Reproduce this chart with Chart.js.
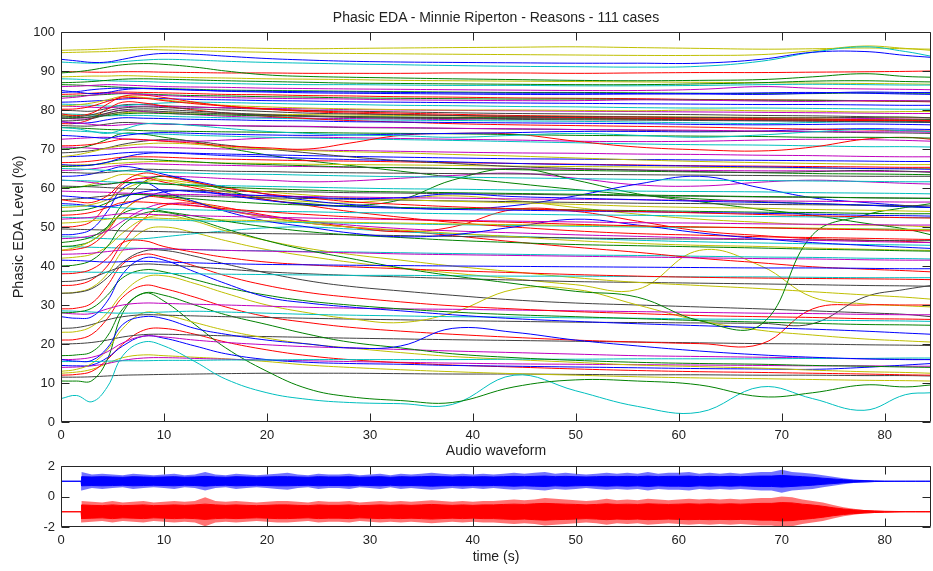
<!DOCTYPE html>
<html>
<head>
<meta charset="utf-8">
<script src="https://cdn.jsdelivr.net/npm/chart.js@4/dist/chart.umd.min.js"></script>
<style>
  body { margin: 0; background: #fff; width: 933px; height: 571px; position: relative; overflow: hidden; font-family: "Liberation Sans", Arial, sans-serif; }
  canvas { position: absolute; left: 0; }
  .ttl { position: absolute; left: 61px; width: 870px; text-align: center; font-size: 14px; line-height: 16px; color: #222; }
</style>
</head>
<body>
<canvas id="edaChart" width="933" height="460" style="top:0"></canvas>
<canvas id="audioChart" width="933" height="131" style="top:440px"></canvas>
<div class="ttl" style="top:9px">Phasic EDA - Minnie Riperton - Reasons - 111 cases</div>
<div class="ttl" style="top:442px">Audio waveform</div>
<script>
// sample times (s) for the EDA curves
const timeSec = [0, 1.5, 3, 4.5, 6, 8, 10, 13, 16, 20, 24, 28, 33, 38, 44, 50, 56, 62, 68, 73, 78, 82, 84.5];
const timeTicks = [0, 10, 20, 30, 40, 50, 60, 70, 80];
const edaTicks = [0, 10, 20, 30, 40, 50, 60, 70, 80, 90, 100];
const audioTicks = [-2, 0, 2];

// 111 cases, colours cycle b g r c m y k
const edaCases = [
  [93,92.6,92.2,92.3,93,94,94.5,94.3,93.8,93.2,92.8,92.5,92.3,92.2,92.1,92,92,92,93,94.8,95,94,93.5],
  [89.5,89.8,90.3,91,91.6,91.9,91.7,91,90,89,88.6,88.4,88.2,88,87.8,87.6,87.5,87.6,87.8,88.5,89.3,88.6,88.4],
  [89.8,89.8,89.7,89.7,89.8,89.8,89.7,89.6,89.5,89.5,89.4,89.4,89.4,89.5,89.5,89.4,89.5,89.6,89.6,89.7,89.8,89.9,90],
  [92.3,92.1,92,92.1,92.4,92.8,93,92.8,92.5,92.2,92,91.8,91.6,91.4,91.2,91.1,91,91.2,92.5,94.8,96.2,95,93.8],
  [86,86.1,86.3,86.5,86.4,86.2,86,85.9,85.8,85.6,85.5,85.4,85.3,85.2,85.1,85,85,85.3,86,85.6,85.4,85.3,85.2],
  [95.3,95.4,95.5,95.7,95.9,96.1,96.2,96.1,96,95.8,95.7,95.8,95.9,96,96.1,96.2,96,95.8,95.6,95.7,95.9,95.7,95.6],
  [78.5,78.3,78.8,79.8,80.5,80.8,80.6,80.3,80,79.6,79.2,79,78.8,78.6,78.4,78.3,78.2,78.1,78,78,78.1,78.2,78],

  [85,84.6,84.2,84.5,85.2,85.5,85.4,85.1,84.8,84.6,84.4,84.3,84.2,84.1,84,84,84.1,84.2,84.4,84.5,84.3,84.1,84],
  [87,87.1,87.3,87.6,87.9,88,87.9,87.7,87.5,87.3,87.1,86.9,86.8,86.7,86.6,86.5,86.5,86.7,87,87.4,87.5,87.3,87.2],
  [80.2,80.3,81,82.2,83.1,83,82.4,81.6,81,80.3,79.8,79.5,79.2,78.9,78.6,78.4,78.2,78,77.8,77.7,77.5,77.4,77.3],
  [88,87.9,87.7,87.5,87.4,87.3,87.1,86.9,86.8,86.6,86.5,86.5,86.4,86.3,86.3,86.2,86.2,86.3,86.5,86.6,86.5,86.4,86.4],
  [83,83.3,83.8,84.2,84.3,84,83.7,83.4,83.2,83,82.9,82.8,82.6,82.5,82.4,82.4,82.6,82.5,82.3,82.2,82.4,82.4,82.3],
  [94.7,94.8,94.9,95,95.2,95.5,95.4,95.2,95,94.8,94.6,94.5,94.4,94.3,94.2,94.1,94,94,94.2,95.2,96.4,95.8,95.3],
  [77.8,77.9,78.3,79.2,80,80.3,80.1,79.7,79.3,78.8,78.4,78.1,77.9,77.8,77.6,77.5,77.4,77.3,77.2,77.1,77,76.9,76.8],

  [84.5,84.7,85.2,85.5,85.6,85.5,85.3,85.1,84.9,84.8,84.7,84.6,84.5,84.4,84.3,84.3,84.2,84.1,84,84.3,84.6,84.5,84.5],
  [86.5,86.4,86.2,86,85.8,85.6,85.5,85.3,85.1,85,84.9,84.8,84.7,84.6,84.5,84.5,84.4,84.3,84.2,84.2,84.4,84.3,84.3],
  [79,78.6,79.2,81.5,83.5,83.8,83.2,82,81,80.2,79.6,79.2,78.9,78.6,78.3,78.1,77.9,77.7,77.5,77.4,77.3,77.3,77.2],
  [75.5,75.2,74.5,74,75,76.4,76.5,76,75.3,74.5,74,73.6,73.4,73,73.5,74,73.5,73,73.6,74.4,75,74.7,74.5],
  [77,76.7,76.3,76,76.2,76.5,76.4,76.2,76,75.9,75.8,75.6,75.5,75.3,75.2,75,74.9,74.8,74.6,74.5,74.4,74.4,74.3],
  [81,81.3,81.8,82.6,83.5,83.2,82.6,81.8,81.2,80.8,80.5,80.3,80.1,80,80,79.9,79.8,80,79.8,79.7,79.5,79.6,79.6],
  [77.2,77.3,77.8,78.8,79.5,79.8,79.6,79.3,79,78.7,78.5,78.3,78.1,78,77.8,77.7,77.6,77.5,77.4,77.3,77.2,77.1,77],

  [77,76.6,76.8,77.5,78,77.9,77.8,77.6,77.5,77.3,77.2,77,76.9,76.8,76.7,76.6,76.5,76.3,76.2,76.3,76.4,76.3,76.2],
  [78.2,78.1,78.2,78.6,79,79.2,79.1,78.9,78.7,78.5,78.4,78.3,78.2,78.1,78,77.9,77.8,77.7,77.6,77.6,77.5,77.5,77.5],
  [76.5,76.6,77.8,80.2,82,81.8,81,80,79.2,78.4,77.8,77.3,76.9,76.5,76.2,76,75.8,75.6,75.3,75.1,74.9,74.7,74.6],
  [79,78.9,78.7,78.5,78.6,78.6,78.4,78.2,78,77.9,77.7,77.5,77.4,77.3,77.2,77.1,76.9,76.7,76.5,76.8,77,76.9,76.8],
  [78,77.7,77.9,79.2,80,79.6,79.2,78.8,78.4,78.1,77.9,77.8,77.7,77.6,78,78,77.8,77.5,77.3,77.5,77.8,77.7,77.6],
  [78.6,78.7,78.8,79,79.3,79.5,79.4,79.2,79,78.9,78.8,78.7,78.6,78.5,78.4,78.4,78.3,78.2,78.1,78,78,78,78],
  [76,75.9,75.9,76.4,76.8,76.6,76.4,76.2,76,75.8,75.7,75.5,75.4,75.3,75.1,75,74.8,74.6,74.5,74.4,74.2,74.1,74],

  [73.5,73.3,73,72.8,73.4,74,74.2,74,73.8,73.6,73.5,73.6,73.8,74,74.2,74.5,74.5,74.4,74.6,75,75.2,75.1,75],
  [75.5,75.4,75.2,75,74.9,74.7,74.6,74.5,74.4,74.3,74.2,74.1,74,73.9,73.7,73.5,73.4,73.3,73.2,73,73,72.9,72.8],
  [70.8,70.9,71.2,71.8,72.5,72.4,72,71.5,70.8,70.3,70,71.5,73.5,74,73.8,72,70.5,69.8,69.5,70.5,72.5,73,72.5],
  [74.8,74.6,74.4,74.2,74,73.9,73.8,73.5,73.3,73,72.8,72.6,72.4,72.2,71.9,71.6,71.3,71.1,71,70.8,70.6,70.6,70.5],
  [72.5,72.7,72.9,73,72.6,72.3,72.1,72,72.3,72.8,73,72.9,72.7,72.5,72.3,72,71.9,72,72.3,72.5,72.4,72.2,72],
  [68,68.5,69.3,70.2,70.8,71.3,71.5,71.2,70.5,70,69.6,69.3,69,68.6,68.2,67.7,67.2,66.8,66.5,66.3,66.1,66,66],
  [69,69.2,69.6,70.3,71.2,72,72.4,72,71,70,69,68,67,66.3,65.5,65,64.6,64.2,64,64.2,64.5,64.3,64],

  [66,65.8,65.9,66.6,67.8,68.8,69,68.7,68.3,68,67.6,67.3,67,66.7,66.3,66,65.8,65.6,65.4,65.2,65,64.9,64.8],
  [65.5,65.6,65.9,66.6,67.3,67.4,67.1,66.7,66.3,66,65.7,65.4,65.2,65,64.7,64.5,64.3,64.1,63.9,63.7,63.6,63.5,63.4],
  [66.5,66.6,66.9,67.4,67.9,68,67.9,67.6,67.4,67.2,67,66.9,66.7,66.5,66.3,66.1,65.9,65.7,65.6,65.5,65.4,65.3,65.3],
  [65,64.9,64.7,64.5,64.4,64.2,64,63.8,63.6,63.5,63.3,63.1,62.9,62.8,62.6,62.4,62.2,62,61.9,61.8,61.7,61.6,61.6],
  [64.5,64.6,64.9,65.4,65.9,66.2,66.1,65.9,65.8,65.6,65.5,65.3,65.2,65,64.9,64.8,64.6,64.5,64.4,64.4,64.3,64.2,64.2],
  [65.8,65.9,66,66.2,66.4,66.7,66.8,66.6,66.4,66.3,66.1,66,65.9,65.8,65.6,65.5,65.4,65.3,65.2,65.1,65,65,65],
  [64,63.9,63.8,64,64.4,64.8,64.7,64.5,64.3,64.2,64,63.9,63.8,63.7,63.6,63.5,63.4,63.3,63.2,63.1,63,63,63],

  [58,57.7,57.3,57,57.8,59,59.5,59,58.5,58,57.6,57.3,57.5,58.5,57.8,57.4,57,56.6,56.3,56,55.6,55.2,55],
  [60,60.2,60.6,61,61.4,61.3,61,60.6,60.2,59.8,59.5,59.2,59,58.8,58.6,58.4,58.2,58,57.8,57.7,57.5,57.4,57.3],
  [57,56.5,56.3,58,61.5,63.8,63,61.5,60,58.5,57.5,56.5,55.8,55.2,54.7,54.3,54,53.6,53.2,52.9,52.6,52.4,52.3],
  [62,61.9,61.8,61.6,61.4,61.2,61,60.8,60.6,60.4,60.2,60,59.8,59.7,59.5,59.4,59.2,59.1,59,58.8,58.7,58.6,58.5],
  [59.2,59.1,59,58.9,58.7,58.6,58.4,58.3,58.1,58,57.8,57.7,57.5,57.4,57.2,57.1,57,56.8,56.7,56.6,56.5,56.4,56.4],
  [55,55.2,55.8,57,59.5,61.5,62,61.2,60,59,58.2,57.5,57,56.6,56.2,55.8,55.3,55,54.8,54.5,54.3,54.1,54],
  [60.5,60.4,60.3,60.1,59.9,59.7,59.5,59.4,59.2,59.1,59,58.8,58.7,58.5,58.4,58.2,58,57.9,57.7,57.6,57.5,57.4,57.4],

  [56,55.8,55.4,55.2,55.8,57.5,59,59.3,58.2,56.8,55.8,55.2,54.8,54.5,54.3,54.1,53.9,53.7,53.5,53.3,53,52.9,52.8],
  [54,54.2,54.8,56.2,58,58.3,57.8,57.2,56.6,56,55.6,55.3,55,54.8,54.6,54.4,54.2,54,53.8,53.7,53.5,53.4,53.4],
  [53,53.2,53.8,55,56.3,56.4,56,55.4,54.7,53.9,53.2,52.6,52,51.6,51.2,50.7,50.3,50,49.8,49.5,49.3,49.1,49],
  [55.5,55.4,55.3,55.1,54.9,54.7,54.6,54.4,54.2,54,53.9,53.7,53.6,53.4,53.3,53.1,53,52.8,52.7,52.6,52.5,52.4,52.4],
  [52,52.2,52.5,53,53.4,53.3,53.1,52.9,52.7,52.5,52.3,52.1,51.9,51.7,51.5,51.3,51.1,51,50.8,50.7,50.6,50.5,50.5],
  [51,51.2,51.6,52,52.4,52.4,52.2,52,51.8,51.6,51.4,51.2,51,50.8,50.6,50.4,50.2,50,49.8,49.7,49.5,49.4,49.3],
  [57,57.2,57.6,58,58.4,58.3,58.1,57.9,57.7,57.5,57.3,57.1,56.9,56.7,56.5,56.3,56.1,56,55.8,55.7,55.6,55.5,55.4],

  [48,48.2,49.5,54,60,61.5,59,56.5,54,51.5,50,48.5,47.5,48,50,52,50.5,48.5,47,46,45.3,44.8,44.5],
  [46,46.5,47.5,50,53.5,54.8,54,52.8,51.5,50,48.8,48,47.3,46.6,46,45.5,45.2,44.9,44.6,44.3,44.1,43.9,43.8],
  [50,50.2,51.5,56,61,62.5,61.5,60,58.5,57,55.5,54,52.5,51.2,50,49,48.3,47.9,47.5,47.3,47.1,46.9,46.8],
  [52.5,52.4,52.3,52.2,52.1,51.9,51.8,51.6,51.4,51.3,51.1,51,50.8,50.6,50.4,50.2,50,49.9,49.8,49.6,49.5,49.4,49.4],
  [47,47.2,47.8,49,51.5,54.5,56,55.5,54.3,52.8,51.5,50.5,49.6,49,48.5,48,47.6,47.2,46.9,46.6,46.3,46.1,46],
  [44,44.8,46.5,49.5,54,57.5,58,56.5,54.5,52.5,51,50,49.2,48.4,47.5,46.5,45.8,45.3,45,44.6,44.3,44.1,44],
  [49.5,49.4,49.3,49.2,49,48.9,48.8,48.6,48.5,48.3,48.2,48,47.8,47.6,47.4,47.2,47,46.9,46.8,46.7,46.6,46.5,46.5],

  [41.5,41.4,41.2,41,41.1,41.2,41,40.8,40.6,40.4,40.3,40.2,40.1,40,39.9,39.8,39.7,39.6,39.5,39.5,39.4,39.3,39.3],
  [40,40.3,41.5,45,50.5,53.5,53.8,52,49.5,46.5,44,42,39.5,37.5,35.5,33.5,32,26,25,48,53,55,56],
  [38,38.2,39.2,42,46,46.5,45,43.5,42.2,41,40.3,39.8,39.3,38.8,38.3,37.8,37.4,37.1,36.9,36.8,36.7,36.6,36.5],
  [38.5,38.5,38.4,38.4,38.3,38.2,38.1,38,37.9,37.8,37.7,37.6,37.6,37.5,37.4,37.4,37.3,37.2,37.2,37.1,37,37,37],
  [43,43.1,43.3,43.7,44.1,44.5,44.4,44.2,44,43.8,43.6,43.4,43.1,42.9,42.7,42.5,42.3,42.1,41.9,41.8,41.6,41.5,41.5],
  [42,42.3,43,45,48.5,52,53,51.5,49,46.5,44.5,43,41.5,40,38.5,37,35.8,35,34.2,33.4,32.6,32,31.5],
  [36,36.2,37,38.5,39.8,40.5,40.3,39.8,39.2,38.5,38,37.6,37.2,36.8,36.4,36,35.8,35.6,35.4,35.2,35,34.9,34.8],

  [27,26.6,27,31,38,42,41.5,38.5,35.5,32,30.5,29.5,28.5,27.5,26.5,25.8,25.2,24.7,24.2,23.8,23.3,22.8,22.5],
  [28,28.2,29.2,32.5,37,39,38.5,36.5,34.5,32.5,31,30,29,28.2,27.5,27,26.5,26,25.6,25.3,25,24.9,24.8],
  [29,29.2,30.5,35,40.5,43,42.2,40,37.5,35,33.2,32,30.8,29.8,29,28.3,27.8,27.3,27,26.8,26.5,26.4,26.3],
  [28.5,28.4,28.2,28,27.9,28,28.2,28.4,28.2,27.9,27.6,27.4,27.2,27,26.9,26.7,26.6,26.4,26.3,26.1,26,25.9,25.8],
  [28,27.7,27.8,29,30,30.5,30.4,30.2,30,29.7,29.4,29.2,29,28.9,28.7,28.5,28.3,28.1,27.9,27.8,27.6,27.5,27.5],
  [23,23.2,24.5,28,33,37,37.5,35.5,33,30,28,26.5,25.5,28,34,34,30,26,23.5,22.3,21.3,20.8,20.5],
  [24,24.2,25,26.2,27,27.5,27.4,27.2,27,26.8,26.6,26.4,26.2,26,25.8,25.6,25.5,25.4,25.3,25.2,32,34,35],

  [16,15.6,15.8,19,25,27,26.5,24,22.5,21,20,19,19.5,24,23,21,19.5,18.2,17.2,16.6,16.2,16,16],
  [17,17.2,18,22,29,33,32.5,30,27.5,25,22.5,20.5,19,17.5,16.5,15.8,15.3,15,14.8,14.5,14.3,14.1,14],
  [21,21.2,22.5,26.5,32,35,34.2,32,29.5,27,25.5,24.3,23.3,22.5,21.7,21,20.5,20.1,20,29,30,30,30],
  [15.5,15.5,15.5,15.6,15.7,15.7,15.8,15.8,15.9,15.9,16,16,16,16,16.1,16.1,16.2,16.2,16.2,16.3,16.3,16.4,16.4],
  [16,16.1,16.6,18,20.3,22,21.8,21,20.4,19.8,19.3,19,18.6,18.2,17.8,17.4,17,16.8,16.6,16.4,16.2,16.1,16],
  [13,13.5,15,18.5,24,28,27.5,25.5,23.5,21.5,20,19,17.8,16.8,16,15.3,14.6,14.2,13.8,13.3,12.9,12.7,12.5],
  [20,20.1,20.4,21,21.8,22.4,22.5,22.3,22.1,21.9,21.7,21.5,21.3,21.1,20.9,20.7,20.5,20.3,20.1,20,19.8,19.7,19.6],

  [14.5,14.4,14.6,16.5,19.5,22,21.5,19.5,17.5,16,15.3,15,14.8,14.5,14.3,14.1,13.9,13.7,13.6,13.5,14,14.6,15],
  [10.5,10.5,10.6,16,28,33,31,25,19,13,8.5,6.5,5.5,5,9,10.8,10.5,9.5,6.5,7.5,9.5,9,9.5],
  [12,12.2,13,16,20,23.5,24,22.5,20.5,18.5,17,16,15.2,14.6,14.1,13.6,13.2,12.9,12.7,12.5,12.3,12.1,12],
  [6,6.8,5.2,9,17,20.5,19.5,15.5,11,7.5,5.8,5,4.7,4.5,12,8,4,2.5,9,6,3,7,7.5],
  [14,14.1,14.4,15,15.8,16.4,16.5,16.3,16.1,15.9,15.7,15.5,15.3,15.1,14.9,14.8,14.7,14.6,14.5,14.4,14.4,14.3,14.3],
  [12.5,12.8,13.5,15,16.5,17.2,17,16.6,16.2,15.5,14.6,14,13.4,12.9,12.4,12,11.6,11.3,11.1,10.9,10.7,10.6,10.5],
  [11.5,11.5,11.6,11.8,12,12.1,12.2,12.3,12.4,12.5,12.5,12.5,12.4,12.3,12.3,12.2,12.1,12.1,12,12,11.9,11.9,11.8],

  [63,63.1,63.6,64.6,65.5,64.8,63.5,61.8,60.2,58.4,56.8,55.8,55,54.6,55.5,58,61,63,60,57.5,56.3,55.5,55],
  [45,45.3,46.5,50,56,61.5,63,61.5,59.5,57,56,55.5,57,62,65,62,58.5,56.5,54.5,53,51,49.5,48],
  [44,44.3,45.5,49,54,57.5,57.5,56.3,55,53,51.5,50,48.8,50,54.5,54,51.5,49,47.8,47,46.6,46.3,46],
  [47.5,47.4,47.2,47,46.9,47,47.5,48.3,49,49.8,50,49.5,48.8,48.2,47.6,47.1,46.6,46.2,45.9,45.7,45.5,45.4,45.3],
  [62,61.8,61.4,61,61.6,62.6,63,62.8,62.4,62,61.6,61.8,62.5,63.2,63.8,62.5,60.8,60.5,61.5,62,61.6,61.2,61],
  [60,60.2,61,62.3,63.5,63,62,60.5,59,57.5,56.5,56.2,57.2,58,56.8,55,53.3,52,51.2,50.6,50.5,50.3,50],
  [33,33.2,34.2,37,41,43.8,44,42.5,40.5,38.2,36.2,34.8,33.6,32.5,31.3,30.5,30,29.5,29,28.5,28,27.6,27],

  [82,82.1,82.3,82.5,82.8,83,82.9,82.7,82.6,82.4,82.3,82.1,82,81.9,81.8,81.7,81.6,81.5,81.4,81.4,81.3,81.2,81.2],
  [83.5,83.6,83.8,84,84.2,84.1,83.9,83.7,83.6,83.4,83.3,83.1,83,82.9,82.8,82.8,82.7,82.6,82.5,82.5,82.4,82.3,82.3],
  [84,84.1,84.3,84.5,84.6,84.5,84.4,84.2,84,83.9,83.7,83.6,83.4,83.3,83.1,83,82.9,82.7,82.6,82.5,82.3,82.2,82.1],
  [81.5,81.4,81.2,81,81.1,81.5,81.8,82,81.9,81.7,81.5,81.4,81.2,81.1,80.9,80.8,80.6,80.5,80.5,80.4,80.3,80.2,80.2],
  [81,80.9,80.7,80.6,80.8,81,80.9,80.7,80.6,80.4,80.3,80.1,80,79.9,79.8,79.7,79.6,79.5,79.4,79.3,79.2,79.1,79.1],
  [88.5,88.6,88.7,88.7,88.8,88.7,88.5,88.3,88.2,88,87.9,87.8,87.6,87.5,87.4,87.3,87.2,87.1,87,86.9,86.8,86.7,86.6],
  [80,79.8,79.7,80.4,81.3,81.4,81.1,80.8,80.5,80.2,79.9,79.7,79.5,79.3,79.1,79,78.9,78.8,78.6,78.5,78.3,78.1,78],

  [68,68.1,68.3,68.6,69,69.2,69.1,68.9,68.7,68.5,68.3,68.1,67.9,67.7,67.5,67.4,67.3,67.2,67.1,67,66.9,66.8,66.8],
  [70,70.2,71,72.5,74,73.8,73,71.8,70.3,68.5,67,65.8,64.3,62.8,61.2,59.6,58.2,57.2,56.5,56,55.6,55.2,55],
  [35,35.2,36.5,40,46,52,55.5,56,54.3,52.5,51,50,49,47.8,46.2,44.8,43.5,42,40.8,39.8,39.2,38.8,38.5],
  [45,44.9,44.8,44.7,44.6,44.5,44.3,44.2,44,43.9,43.7,43.6,43.4,43.2,43,42.8,42.7,42.5,42.3,42.2,42,41.9,41.8],
  [70.5,70.4,70.2,70,70.2,70.5,70.4,70.2,70,69.9,69.7,69.6,69.4,69.2,69,68.9,68.7,68.6,68.4,68.3,68.1,68,68],
  [33,33.3,34.5,38,44,49,50,48.5,46.5,44.2,42.5,41,39.5,38.2,36.7,35.2,34,44,40,32,30.3,29.8,29.5]
];

// audio waveform: half-amplitude envelopes around each channel's offset (+1 / -1)
const audioTime = [0,1.95,2,3,4,5,6,7,8,9,10,11,12,13,14,15,16,17,18,19,20,21,22,23,24,25,26,27,28,29,30,31,32,33,34,35,36,37,38,39,40,41,42,43,44,45,46,47,48,49,50,51,52,53,54,55,56,57,58,59,60,61,62,63,64,65,66,67,68,69,70,71,72,73,74,75,76,77,78,79,80,81,82,83,84,84.5];
const bluePeak = [0,0,
  0.6,0.45,0.5,0.45,0.4,0.5,0.45,0.4,0.45,0.5,
  0.4,0.45,0.6,0.45,0.4,0.5,0.45,0.4,0.45,0.5,
  0.55,0.45,0.4,0.5,0.45,0.45,0.5,0.4,0.45,0.5,
  0.4,0.5,0.45,0.5,0.55,0.5,0.45,0.5,0.45,0.5,
  0.45,0.5,0.55,0.5,0.55,0.6,0.5,0.55,0.5,0.45,
  0.5,0.55,0.5,0.55,0.5,0.6,0.5,0.55,0.55,0.6,
  0.5,0.55,0.5,0.55,0.5,0.55,0.6,0.6,0.75,0.6,
  0.55,0.5,0.4,0.3,0.2,0.12,0.08,0.05,0.02,0,
  0,0,0,0];
const blueCore = [0,0,
  0.3,0.28,0.3,0.28,0.26,0.3,0.28,0.26,0.28,0.3,
  0.26,0.28,0.32,0.28,0.26,0.3,0.28,0.26,0.28,0.3,
  0.3,0.28,0.26,0.3,0.28,0.28,0.3,0.26,0.28,0.3,
  0.26,0.3,0.28,0.3,0.32,0.3,0.28,0.3,0.28,0.3,
  0.28,0.3,0.32,0.3,0.32,0.34,0.3,0.32,0.3,0.28,
  0.3,0.32,0.3,0.32,0.3,0.34,0.3,0.32,0.32,0.34,
  0.3,0.32,0.3,0.32,0.3,0.32,0.34,0.34,0.38,0.34,
  0.3,0.26,0.2,0.15,0.1,0.06,0.04,0.02,0.01,0,
  0,0,0,0];
const redPeak = [0,0,
  0.7,0.65,0.6,0.7,0.6,0.65,0.7,0.6,0.65,0.7,
  0.65,0.7,0.95,0.7,0.65,0.7,0.65,0.6,0.65,0.7,
  0.7,0.65,0.6,0.7,0.65,0.65,0.7,0.6,0.65,0.7,
  0.65,0.7,0.65,0.7,0.75,0.7,0.65,0.7,0.65,0.7,
  0.7,0.75,0.8,0.75,0.8,0.9,0.85,0.8,0.75,0.7,
  0.75,0.85,0.75,0.8,0.75,0.85,0.8,0.75,0.8,0.85,
  0.8,0.85,0.8,0.85,0.8,0.85,0.9,0.9,1.0,0.95,
  0.8,0.7,0.6,0.45,0.3,0.2,0.12,0.08,0.05,0.03,
  0.02,0.01,0.01,0.01];
const redCore = [0,0,
  0.45,0.42,0.4,0.45,0.4,0.42,0.45,0.4,0.42,0.45,
  0.42,0.45,0.5,0.45,0.42,0.45,0.42,0.4,0.42,0.45,
  0.45,0.42,0.4,0.45,0.42,0.42,0.45,0.4,0.42,0.45,
  0.42,0.45,0.42,0.45,0.48,0.45,0.42,0.45,0.42,0.45,
  0.45,0.48,0.5,0.48,0.52,0.55,0.52,0.5,0.48,0.45,
  0.48,0.52,0.48,0.5,0.48,0.52,0.5,0.48,0.5,0.52,
  0.5,0.52,0.5,0.52,0.5,0.52,0.55,0.55,0.6,0.58,
  0.5,0.44,0.36,0.26,0.18,0.12,0.08,0.05,0.03,0.02,
  0.01,0.01,0.01,0.01];

const palette = ['#0000ff', '#008000', '#ff0000', '#00bfbf', '#bf00bf', '#bfbf00', '#404040'];
const fontFamily = '"Liberation Sans", Arial, sans-serif';
const textColor = '#222';

// frame box with inward tick marks on all four sides (MATLAB style)
const frameTicks = {
    id: 'frameTicks',
    afterDatasetsDraw(chart) {
        const { ctx, chartArea: a, scales: { x, y } } = chart;
        const len = 8;
        const L = Math.round(a.left) + 0.5, R = Math.round(a.right) - 0.5;
        const T = Math.round(a.top) + 0.5, B = Math.round(a.bottom) - 0.5;
        ctx.save();
        ctx.strokeStyle = '#262626';
        ctx.lineWidth = 1;
        ctx.beginPath();
        x.ticks.forEach(t => {
            const px = Math.round(x.getPixelForValue(t.value)) + 0.5;
            ctx.moveTo(px, B); ctx.lineTo(px, B - len);
            ctx.moveTo(px, T); ctx.lineTo(px, T + len);
        });
        y.ticks.forEach(t => {
            const py = Math.round(y.getPixelForValue(t.value)) + 0.5;
            ctx.moveTo(L, py); ctx.lineTo(L + len, py);
            ctx.moveTo(R, py); ctx.lineTo(R - len, py);
        });
        ctx.rect(L, T, R - L, B - T);
        ctx.stroke();
        ctx.restore();
    }
};

function axisX(height, title) {
    return {
        type: 'linear', min: 0, max: 84.5,
        afterBuildTicks: s => { s.ticks = timeTicks.map(v => ({ value: v })); },
        afterFit: s => { s.height = height; },
        grid: { display: false }, border: { display: false },
        ticks: { font: { family: fontFamily, size: 13 }, color: textColor, padding: -2, maxRotation: 0, autoSkip: false },
        title: title ? { display: true, text: title, font: { family: fontFamily, size: 14 }, color: textColor, padding: { top: 0, bottom: 5 } } : { display: false }
    };
}

function axisY(min, max, ticks, title) {
    return {
        min: min, max: max,
        afterBuildTicks: s => { s.ticks = ticks.map(v => ({ value: v })); },
        afterFit: s => { s.width = 61; },
        grid: { display: false }, border: { display: false },
        ticks: { font: { family: fontFamily, size: 13 }, color: textColor, padding: -2 },
        title: title ? { display: true, text: title, font: { family: fontFamily, size: 14.5 }, color: textColor, padding: { top: 10, bottom: 0 } } : { display: false }
    };
}

const common = {
    responsive: false,
    animation: false,
    events: [],
    plugins: { legend: { display: false }, title: { display: false }, tooltip: { enabled: false } }
};

new Chart(document.getElementById('edaChart').getContext('2d'), {
    type: 'line',
    data: {
        datasets: edaCases.map((vals, i) => ({
            data: vals.map((v, j) => ({ x: timeSec[j], y: v })),
            borderColor: palette[i % palette.length],
            borderWidth: 1,
            pointRadius: 0,
            tension: 0.4,
            fill: false
        }))
    },
    options: {
        ...common,
        layout: { padding: { top: 32, right: 2, left: 0, bottom: 0 } },
        scales: { x: axisX(38, null), y: axisY(0, 100, edaTicks, 'Phasic EDA Level (%)') }
    },
    plugins: [frameTicks]
});

function band(offset, amp, sign) {
    return amp.map((a, j) => ({ x: audioTime[j], y: offset + sign * a }));
}

new Chart(document.getElementById('audioChart').getContext('2d'), {
    type: 'line',
    data: {
        datasets: [
            { data: band(1, bluePeak, 1), fill: '+1', backgroundColor: 'rgba(0,0,255,0.55)', borderWidth: 0, pointRadius: 0, tension: 0 },
            { data: band(1, bluePeak, -1), fill: false, borderWidth: 0, pointRadius: 0, tension: 0 },
            { data: band(1, blueCore, 1), fill: '+1', backgroundColor: '#0000ff', borderColor: '#0000ff', borderWidth: 1, pointRadius: 0, tension: 0 },
            { data: band(1, blueCore, -1), fill: false, borderColor: '#0000ff', borderWidth: 1, pointRadius: 0, tension: 0 },
            { data: band(-1, redPeak, 1), fill: '+1', backgroundColor: 'rgba(255,0,0,0.55)', borderWidth: 0, pointRadius: 0, tension: 0 },
            { data: band(-1, redPeak, -1), fill: false, borderWidth: 0, pointRadius: 0, tension: 0 },
            { data: band(-1, redCore, 1), fill: '+1', backgroundColor: '#ff0000', borderColor: '#ff0000', borderWidth: 1, pointRadius: 0, tension: 0 },
            { data: band(-1, redCore, -1), fill: false, borderColor: '#ff0000', borderWidth: 1, pointRadius: 0, tension: 0 }
        ]
    },
    options: {
        ...common,
        layout: { padding: { top: 26, right: 2, left: 0, bottom: 0 } },
        scales: { x: axisX(44, 'time (s)'), y: axisY(-2, 2, audioTicks, null) }
    },
    plugins: [frameTicks]
});
</script>
</body>
</html>
